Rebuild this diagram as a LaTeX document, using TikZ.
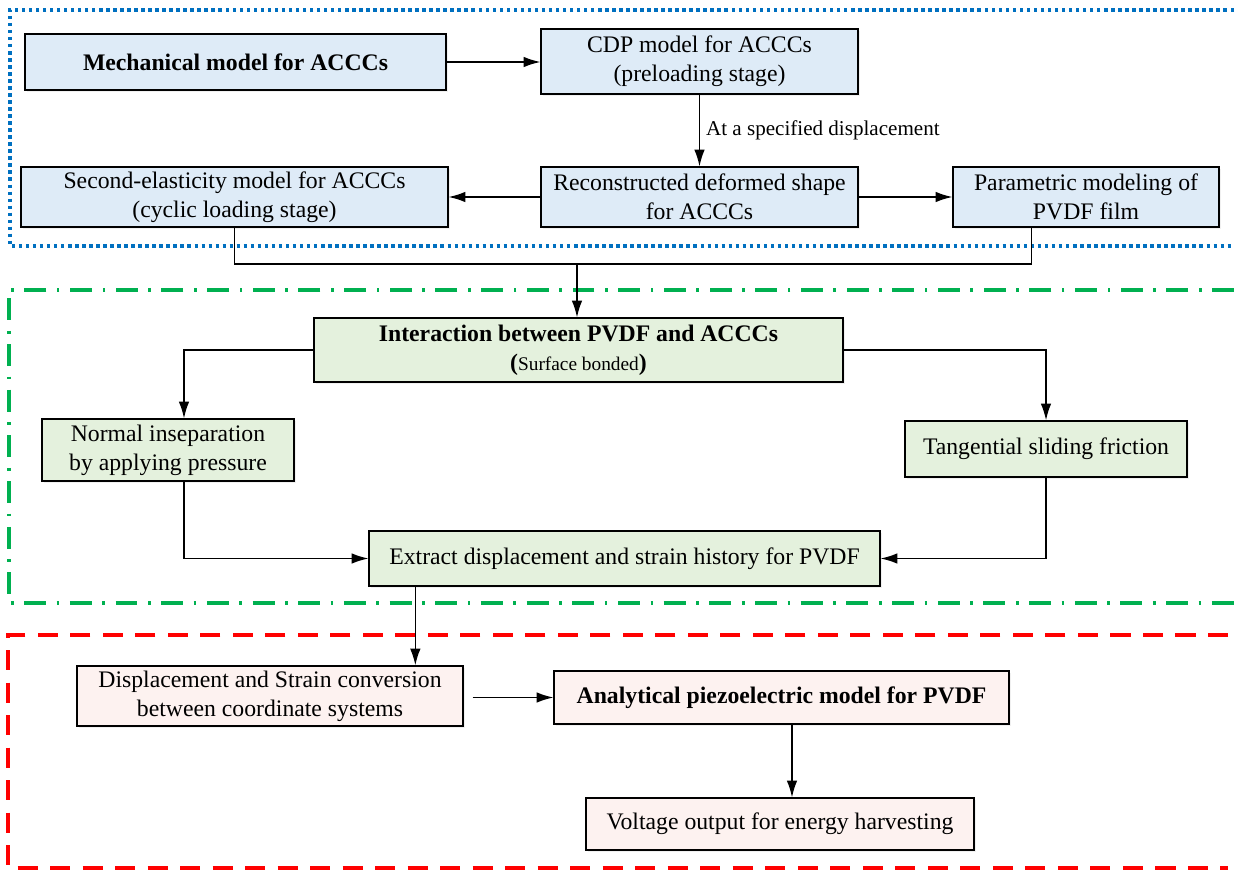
\documentclass[tikz,border=0pt]{standalone}
\usepackage{fontspec}
\setmainfont{Liberation Serif}
\usetikzlibrary{shadows,arrows.meta}
\definecolor{boxblue}{RGB}{222,235,247}
\definecolor{boxgreen}{RGB}{228,241,221}
\definecolor{boxpink}{RGB}{253,242,240}
\definecolor{frameblue}{RGB}{0,112,192}
\definecolor{framegreen}{RGB}{0,176,80}
\definecolor{framered}{RGB}{255,0,0}
\tikzset{
  blk/.style={draw, line width=0.8pt, align=center, inner sep=1pt,
    font=\fontsize{13.5}{16.5}\selectfont,
    drop shadow={opacity=0.12, shadow xshift=1pt, shadow yshift=-1pt}},
  blkblue/.style={blk, fill=boxblue},
  blkgreen/.style={blk, fill=boxgreen},
  blkpink/.style={blk, fill=boxpink},
  conn/.style={line width=0.8pt, -{Latex[length=9.5pt, width=6pt]}},
  frame/.style={line width=2.1pt},
}
\begin{document}
\begin{tikzpicture}[x=0.02cm, y=-0.02cm]
\useasboundingbox (0,0) rectangle (1234,871);
% frames
\draw[frame, frameblue, dash pattern=on 2pt off 2pt] (1234,10) -- (10,10) -- (10,246) -- (1234,246);
\draw[frame, framegreen, dash pattern=on 12.5pt off 6pt on 1.5pt off 6pt] (1234,290) -- (9,290) -- (9,603) -- (1234,603);
\draw[frame, framered, dash pattern=on 11.5pt off 7pt] (1228,635) -- (8,635) -- (8,868) -- (1228,868);
% preloading part
\node[blkblue, minimum width=8.42cm, minimum height=1.12cm] (mech) at (235.5,62) {\textbf{Mechanical model for ACCCs}};
\node[blkblue, minimum width=6.34cm, minimum height=1.3cm] (cdp) at (699.5,61.5) {CDP model for ACCCs\\(preloading stage)};
\node[blkblue, minimum width=6.34cm, minimum height=1.2cm] (recon) at (699.5,197) {Reconstructed deformed shape\\for ACCCs};
\node[blkblue, minimum width=8.54cm, minimum height=1.2cm] (second) at (234.5,197) {Second-elasticity model for ACCCs\\(cyclic loading stage)};
\node[blkblue, minimum width=5.32cm, minimum height=1.2cm] (param) at (1086,197) {Parametric modeling of\\PVDF film};
% interaction part
\node[blkgreen, minimum width=10.58cm, minimum height=1.28cm] (inter) at (578.5,350) {\textbf{Interaction between PVDF and ACCCs}\\\textbf{(}{\fontsize{11}{13}\selectfont Surface bonded}\textbf{)}};
\node[blkgreen, minimum width=5.04cm, minimum height=1.24cm] (normal) at (168,450) {Normal inseparation\\by applying pressure};
\node[blkgreen, minimum width=5.64cm, minimum height=1.12cm] (tang) at (1046,449) {Tangential sliding friction};
\node[blkgreen, minimum width=10.22cm, minimum height=1.1cm] (extract) at (624.5,558.5) {Extract displacement and strain history for PVDF};
% piezoelectric part
\node[blkpink, minimum width=7.72cm, minimum height=1.2cm] (disp) at (270,696) {Displacement and Strain conversion\\between coordinate systems};
\node[blkpink, minimum width=9.1cm, minimum height=1.06cm] (anal) at (781.5,697.5) {\textbf{Analytical piezoelectric model for PVDF}};
\node[blkpink, minimum width=7.76cm, minimum height=1.04cm] (volt) at (780,824) {Voltage output for energy harvesting};
% connectors
\draw[conn] (mech.east) -- (mech.east -| cdp.west);
\draw[conn] (cdp) -- (recon) node[midway, right, font=\fontsize{12}{14}\selectfont] {At a specified displacement};
\draw[conn] (recon) -- (second);
\draw[conn] (recon) -- (param);
\coordinate (jn) at (577,264);
\draw[line width=0.8pt] (second.south) |- (jn) -| ([xshift=1.58cm]param.south west);
\draw[conn] (jn) -- (jn |- inter.north);
\draw[conn] (inter.west) -| ([xshift=0.32cm]normal.north);
\draw[conn] (inter.east) -| (tang.north);
\draw[conn] ([xshift=0.32cm]normal.south) |- (extract.west);
\draw[conn] (tang.south) |- (extract.east);
\draw[conn] ([xshift=0.94cm]extract.south west) -- ([xshift=0.94cm]extract.south west |- disp.north);
\draw[conn] ([xshift=0.18cm]disp.east |- anal.west) -- (anal.west);
\draw[conn] ([xshift=0.21cm]anal.south) -- ([xshift=0.21cm]anal.south |- volt.north);
\end{tikzpicture}
\end{document}
